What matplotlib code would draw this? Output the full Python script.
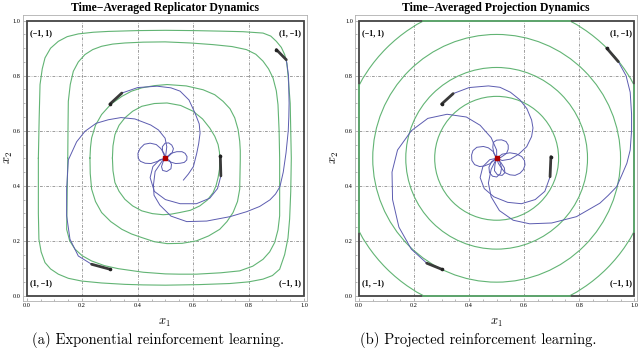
import numpy as np
import matplotlib.pyplot as plt
from matplotlib.patches import Rectangle, Circle
from matplotlib.ticker import MultipleLocator

plt.rcParams['mathtext.fontset'] = 'cm'

# ---- left panel: replicator orbits (green) ----
rep_g1_x = [0.042, 0.045, 0.048, 0.056, 0.066, 0.086, 0.114, 0.146, 0.186, 0.240, 0.294, 0.40, 0.50,
            0.60, 0.70, 0.780, 0.852, 0.880, 0.900, 0.918, 0.930, 0.938, 0.942, 0.950, 0.954,
            0.952, 0.948, 0.942, 0.930, 0.912, 0.886, 0.852, 0.800, 0.732, 0.62, 0.50, 0.42,
            0.354, 0.270, 0.198, 0.150, 0.114, 0.086, 0.066, 0.052, 0.044, 0.042, 0.042]
rep_g1_y = [0.50, 0.65, 0.768, 0.825, 0.865, 0.900, 0.925, 0.942, 0.952, 0.958, 0.961, 0.964, 0.965,
            0.964, 0.962, 0.960, 0.955, 0.944, 0.925, 0.903, 0.877, 0.845, 0.804, 0.70, 0.50,
            0.38, 0.28, 0.210, 0.150, 0.097, 0.074, 0.061, 0.051, 0.045, 0.041, 0.039, 0.040,
            0.042, 0.047, 0.054, 0.064, 0.079, 0.098, 0.121, 0.160, 0.206, 0.30, 0.50]
rep_g2_x = [0.148, 0.149, 0.150, 0.157, 0.168, 0.186, 0.210, 0.238, 0.270, 0.310, 0.354, 0.42, 0.499,
            0.59, 0.672, 0.740, 0.792, 0.826, 0.852, 0.872, 0.888, 0.900, 0.906, 0.910, 0.912,
            0.912, 0.906, 0.894, 0.876, 0.852, 0.815, 0.768, 0.700, 0.612, 0.55, 0.50, 0.42,
            0.330, 0.280, 0.234, 0.200, 0.174, 0.155, 0.144, 0.146, 0.148]
rep_g2_y = [0.50, 0.62, 0.707, 0.768, 0.816, 0.850, 0.877, 0.895, 0.907, 0.915, 0.919, 0.922, 0.923,
            0.919, 0.913, 0.906, 0.895, 0.878, 0.853, 0.825, 0.792, 0.745, 0.695, 0.60, 0.50,
            0.291, 0.240, 0.194, 0.160, 0.133, 0.108, 0.091, 0.084, 0.079, 0.079, 0.080, 0.086,
            0.099, 0.110, 0.127, 0.146, 0.170, 0.200, 0.242, 0.38, 0.50]
rep_g3_x = [0.228, 0.230, 0.234, 0.248, 0.270, 0.303, 0.343, 0.378, 0.415, 0.460, 0.506, 0.575, 0.636,
            0.678, 0.708, 0.733, 0.750, 0.762, 0.768, 0.770, 0.770, 0.768, 0.760, 0.744, 0.722,
            0.696, 0.656, 0.612, 0.560, 0.506, 0.460, 0.415, 0.378, 0.343, 0.303, 0.270, 0.248,
            0.234, 0.229, 0.228]
rep_g3_y = [0.501, 0.540, 0.574, 0.620, 0.659, 0.696, 0.725, 0.744, 0.756, 0.764, 0.768, 0.763, 0.749,
            0.731, 0.707, 0.680, 0.647, 0.605, 0.562, 0.528, 0.494, 0.388, 0.343, 0.303, 0.270,
            0.242, 0.218, 0.200, 0.191, 0.190, 0.197, 0.212, 0.225, 0.242, 0.270, 0.303, 0.343,
            0.388, 0.445, 0.501]
rep_g4_x = [0.309, 0.311, 0.318, 0.333, 0.354, 0.382, 0.415, 0.460, 0.506, 0.555, 0.600, 0.634, 0.660,
            0.678, 0.690, 0.695, 0.696, 0.695, 0.690, 0.683, 0.672, 0.651, 0.624, 0.590, 0.552,
            0.520, 0.492, 0.453, 0.415, 0.382, 0.354, 0.333, 0.318, 0.311, 0.309]
rep_g4_y = [0.501, 0.545, 0.586, 0.620, 0.647, 0.671, 0.689, 0.699, 0.701, 0.692, 0.671, 0.643, 0.610,
            0.580, 0.550, 0.522, 0.494, 0.460, 0.430, 0.402, 0.375, 0.348, 0.327, 0.311, 0.303,
            0.297, 0.295, 0.299, 0.309, 0.327, 0.351, 0.380, 0.412, 0.455, 0.501]

# ---- left panel: time-averaged paths (blue), start at the dark marks ----
rep_b1_x = [0.300, 0.343, 0.40, 0.47, 0.520, 0.553, 0.585, 0.607, 0.622, 0.625, 0.620, 0.613, 0.601,
            0.583, 0.565]
rep_b1_y = [0.697, 0.737, 0.757, 0.762, 0.756, 0.744, 0.712, 0.664, 0.625, 0.591, 0.553, 0.518,
            0.470, 0.443, 0.421]
rep_b2_x = [0.900, 0.936, 0.944, 0.946, 0.945, 0.943, 0.935, 0.925, 0.913, 0.897, 0.877, 0.840, 0.793,
            0.733, 0.649, 0.577, 0.520, 0.480, 0.459, 0.457, 0.463, 0.487, 0.50, 0.520, 0.541,
            0.560, 0.571, 0.578, 0.577, 0.568, 0.553, 0.537, 0.523, 0.510, 0.50]
rep_b2_y = [0.895, 0.858, 0.80, 0.70, 0.65, 0.60, 0.52, 0.45, 0.397, 0.370, 0.349, 0.325, 0.306,
            0.288, 0.272, 0.270, 0.290, 0.330, 0.366, 0.403, 0.452, 0.488, 0.50, 0.518, 0.524,
            0.524, 0.518, 0.506, 0.494, 0.485, 0.482, 0.481, 0.485, 0.491, 0.50]
rep_b3_x = [0.698, 0.700, 0.688, 0.660, 0.612, 0.553, 0.500, 0.460, 0.445, 0.455, 0.480, 0.50, 0.515,
            0.522, 0.520, 0.505, 0.490, 0.486, 0.492, 0.50, 0.490, 0.489, 0.499, 0.512, 0.523,
            0.529, 0.524, 0.510, 0.50]
rep_b3_y = [0.509, 0.436, 0.390, 0.355, 0.335, 0.335, 0.350, 0.380, 0.430, 0.470, 0.495, 0.50, 0.492,
            0.478, 0.462, 0.452, 0.456, 0.470, 0.488, 0.50, 0.525, 0.542, 0.555, 0.556, 0.548,
            0.535, 0.519, 0.506, 0.50]
rep_b4_x = [0.300, 0.234, 0.186, 0.156, 0.144, 0.144, 0.150, 0.180, 0.210, 0.250, 0.294, 0.340, 0.390,
            0.447, 0.475, 0.499, 0.505, 0.50, 0.469, 0.448, 0.427, 0.410, 0.402, 0.401, 0.409,
            0.424, 0.445, 0.467, 0.483, 0.495, 0.50]
rep_b4_y = [0.097, 0.115, 0.145, 0.206, 0.291, 0.388, 0.494, 0.560, 0.598, 0.627, 0.640, 0.648, 0.643,
            0.621, 0.603, 0.573, 0.542, 0.50, 0.488, 0.481, 0.482, 0.489, 0.500, 0.518, 0.536,
            0.551, 0.555, 0.550, 0.536, 0.518, 0.50]

# ---- right panel: projection orbits are circles about (1/2, 1/2) ----
proj_radii = [0.566, 0.45, 0.33, 0.225]
proj_edge = [0.234, 0.766]   # where the outer orbit runs along the boundary

proj_b1_x = [0.300, 0.342, 0.40, 0.47, 0.512, 0.550, 0.585, 0.610, 0.627, 0.632, 0.627, 0.609, 0.58,
             0.55, 0.52, 0.50, 0.490, 0.486, 0.488, 0.500, 0.518, 0.534, 0.542, 0.542, 0.536,
             0.515, 0.50]
proj_b1_y = [0.697, 0.735, 0.757, 0.763, 0.758, 0.740, 0.712, 0.680, 0.639, 0.610, 0.579, 0.542, 0.515,
             0.497, 0.492, 0.50, 0.518, 0.540, 0.558, 0.566, 0.567, 0.561, 0.548, 0.533, 0.518,
             0.503, 0.50]
proj_b2_x = [0.900, 0.942, 0.970, 0.985, 0.990, 0.990, 0.985, 0.973, 0.955, 0.936, 0.905, 0.875, 0.79,
             0.70, 0.62, 0.56, 0.51, 0.48, 0.47, 0.48, 0.50, 0.520, 0.548, 0.572, 0.591, 0.601,
             0.603, 0.597, 0.585, 0.567, 0.548, 0.530, 0.518, 0.506, 0.50]
proj_b2_y = [0.900, 0.851, 0.80, 0.74, 0.66, 0.60, 0.53, 0.482, 0.44, 0.397, 0.365, 0.337, 0.288,
             0.265, 0.262, 0.275, 0.31, 0.36, 0.41, 0.46, 0.50, 0.515, 0.520, 0.516, 0.506, 0.492,
             0.476, 0.459, 0.446, 0.438, 0.440, 0.448, 0.464, 0.482, 0.50]
proj_b3_x = [0.697, 0.694, 0.675, 0.640, 0.590, 0.540, 0.490, 0.455, 0.440, 0.450, 0.475, 0.50, 0.512,
             0.518, 0.514, 0.50, 0.485, 0.474, 0.472, 0.482, 0.50]
proj_b3_y = [0.506, 0.433, 0.380, 0.350, 0.335, 0.340, 0.360, 0.390, 0.430, 0.470, 0.495, 0.50, 0.486,
             0.465, 0.445, 0.432, 0.435, 0.448, 0.468, 0.488, 0.50]
proj_b4_x = [0.300, 0.246, 0.190, 0.145, 0.122, 0.120, 0.140, 0.190, 0.250, 0.320, 0.390, 0.440, 0.480,
             0.50, 0.50, 0.475, 0.455, 0.438, 0.420, 0.410, 0.409, 0.414, 0.428, 0.452, 0.470,
             0.488, 0.50, 0.515, 0.528, 0.530, 0.520, 0.503, 0.492, 0.494, 0.50]
proj_b4_y = [0.097, 0.119, 0.170, 0.250, 0.350, 0.450, 0.530, 0.600, 0.645, 0.660, 0.650, 0.620, 0.575,
             0.530, 0.50, 0.480, 0.472, 0.470, 0.477, 0.492, 0.512, 0.528, 0.540, 0.543, 0.538,
             0.524, 0.50, 0.485, 0.465, 0.448, 0.438, 0.440, 0.455, 0.478, 0.50]

corner_labels = ['(\u22121, 1)', '(1, \u22121)', '(1, \u22121)', '(\u22121, 1)']
titles = ['Time\u2212Averaged Replicator Dynamics', 'Time\u2212Averaged Projection Dynamics']
captions = ['(a) Exponential reinforcement learning.', '(b) Projected reinforcement learning.']

GREEN = '#62b474'
BLUE = '#5c5cb0'
DARK = '#444444'


def setup_axes(ax, ylab_x):
    ax.set_xlim(-0.0144, 1.0097)
    ax.set_ylim(-0.0174, 1.0207)
    for s in ax.spines.values():
        s.set_color('#b0b0b0')
        s.set_linewidth(0.6)
    ax.xaxis.set_major_locator(MultipleLocator(0.2))
    ax.yaxis.set_major_locator(MultipleLocator(0.2))
    ax.xaxis.set_minor_locator(MultipleLocator(0.05))
    ax.yaxis.set_minor_locator(MultipleLocator(0.05))
    ax.tick_params(which='both', direction='in', color='#999999', width=0.5,
                   labelsize=4.5, pad=1.5)
    ax.tick_params(which='major', length=2.5)
    ax.tick_params(which='minor', length=1.2)
    ax.xaxis.set_major_formatter(lambda v, p: f'{v:.1f}')
    ax.yaxis.set_major_formatter(lambda v, p: f'{v:.1f}')
    for lab in ax.get_xticklabels() + ax.get_yticklabels():
        lab.set_family('Liberation Serif')
    for g in [0.2, 0.4, 0.6, 0.8]:
        ax.plot([g, g], [0, 1], color='#777777', lw=0.5, ls=(0, (4, 2, 1, 2)), zorder=1)
        ax.plot([0, 1], [g, g], color='#777777', lw=0.5, ls=(0, (4, 2, 1, 2)), zorder=1)
    ax.add_patch(Rectangle((0, 0), 1, 1, fill=False, ec=DARK, lw=1.3, zorder=5))
    ax.set_xlabel('$x_1$', fontsize=9, labelpad=6)
    ax.set_ylabel('$x_2$', fontsize=9)
    ax.yaxis.set_label_coords(ylab_x, 0.5)
    pos = [(0.012, 0.955, 'left'), (0.99, 0.955, 'right'), (0.012, 0.045, 'left'), (0.99, 0.045, 'right')]
    for (tx, ty, ha), lab in zip(pos, corner_labels):
        ax.text(tx, ty, lab, ha=ha, va='center', fontsize=5.8, fontweight='bold',
                family='Liberation Serif', zorder=6)


def draw_paths(ax, paths):
    for px, py in paths:
        ax.plot(px, py, color=BLUE, lw=0.7, zorder=3)
        ax.plot(px[:2], py[:2], color='#3a3a3a', lw=2.0, solid_capstyle='round', zorder=4)
        ax.plot(px[0], py[0], 'o', color='#222222', ms=1.6, zorder=4)
    ax.plot(0.5, 0.5, 's', color='#b00000', ms=3.5, zorder=7)


fig = plt.figure(figsize=(6.4, 3.51), dpi=100)
ax1 = fig.add_axes([0.0355, 0.1433, 0.4438, 0.814])
ax2 = fig.add_axes([0.5547, 0.1433, 0.4406, 0.814])

setup_axes(ax1, -0.028)
for gx, gy in [(rep_g1_x, rep_g1_y), (rep_g2_x, rep_g2_y), (rep_g3_x, rep_g3_y), (rep_g4_x, rep_g4_y)]:
    ax1.plot(gx, gy, color=GREEN, lw=0.8, zorder=2)
draw_paths(ax1, [(rep_b1_x, rep_b1_y), (rep_b2_x, rep_b2_y), (rep_b3_x, rep_b3_y), (rep_b4_x, rep_b4_y)])

setup_axes(ax2, -0.05)
box = Rectangle((0, 0), 1, 1, transform=ax2.transData, fill=False, lw=0)
ax2.add_patch(box)
for r in proj_radii:
    c = Circle((0.5, 0.5), r, fill=False, ec=GREEN, lw=0.8, zorder=2)
    ax2.add_patch(c)
    c.set_clip_path(box)
lo, hi = proj_edge
for seg in [([lo, hi], [0, 0]), ([lo, hi], [1, 1]), ([0, 0], [lo, hi]), ([1, 1], [lo, hi])]:
    ax2.plot(seg[0], seg[1], color=GREEN, lw=1.2, zorder=6)
draw_paths(ax2, [(proj_b1_x, proj_b1_y), (proj_b2_x, proj_b2_y), (proj_b3_x, proj_b3_y), (proj_b4_x, proj_b4_y)])

for ax, t in zip([ax1, ax2], titles):
    bb = ax.get_position()
    fig.text((bb.x0 + bb.x1) / 2, 0.977, t, ha='center', va='center', fontsize=8.5,
             fontweight='bold', family='Liberation Serif')

fig.text(0.247, 0.031, captions[0], ha='center', va='center', fontsize=10.5, family='cmr10')
fig.text(0.747, 0.031, captions[1], ha='center', va='center', fontsize=10.5, family='cmr10')

fig.savefig('out.png', dpi=100)
